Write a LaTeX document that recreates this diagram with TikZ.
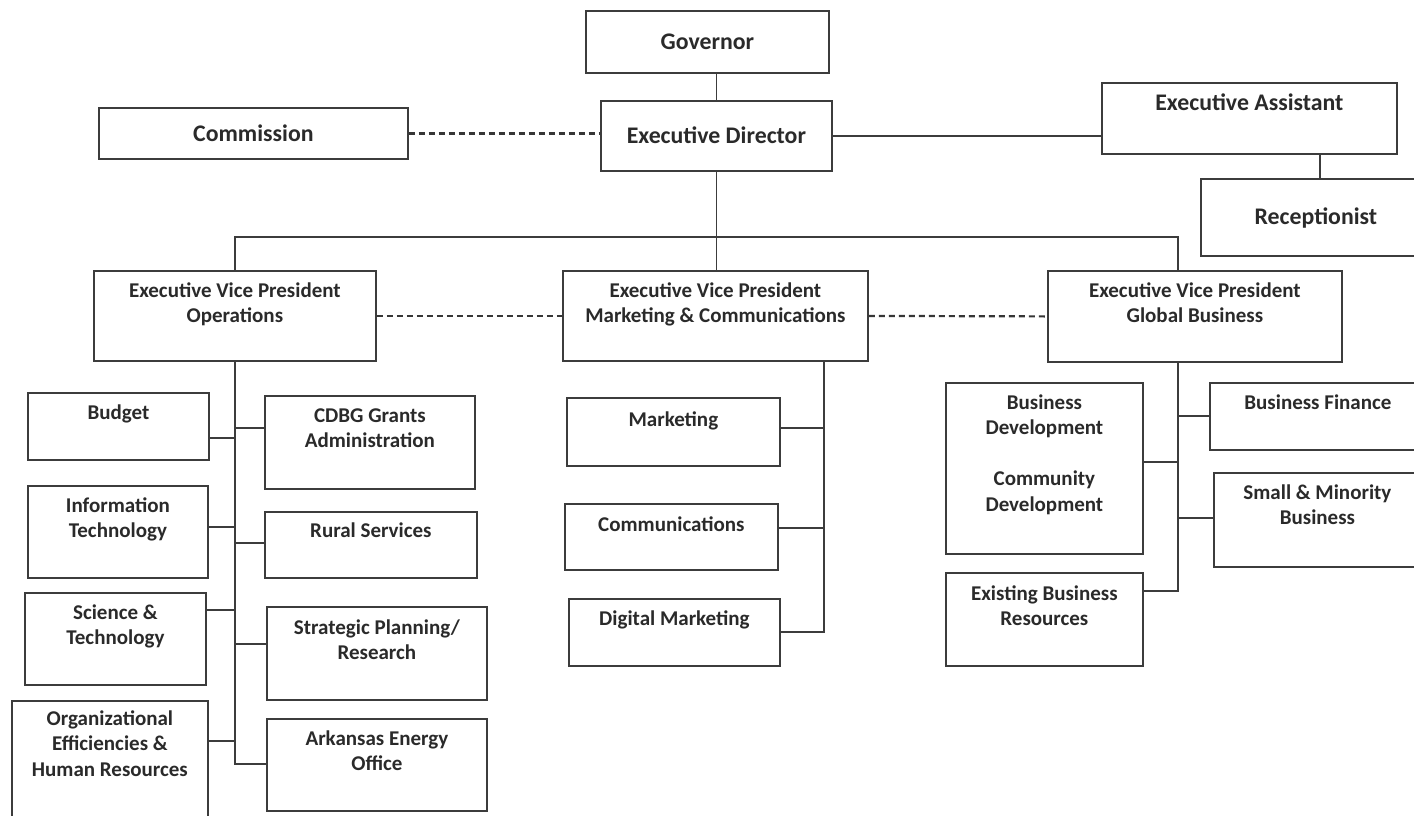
\documentclass[tikz,border=0pt]{standalone}
\usepackage{fontspec}
\setmainfont{Carlito}
\definecolor{lc}{HTML}{3C3C3C}
\definecolor{tc}{HTML}{2A2A2A}
\newcommand\orgbox[8]{%
  \node[box, anchor=north west, minimum width={(#4-#2)*1pt}, minimum height={(#5-#3)*1pt}] (#1) at (#2,#3) {};
  \node[lbl, #7, anchor=north] (#1t) at (#1.north |- 0,#6-11) {\rule{0pt}{18pt}#8};}
\begin{document}
\begin{tikzpicture}[x=1pt,y=-1pt,
  box/.style={draw=lc, line width=1.8pt, rectangle, inner sep=0pt, fill=white},
  lbl/.style={font=\bfseries\fontsize{21}{25.5}\selectfont, text=tc, align=center, inner sep=0pt},
  big/.style={font=\bfseries\fontsize{23.8}{27}\selectfont},
  norm/.style={},
  con/.style={draw=lc, line width=1.8pt},
  dcon/.style={draw=lc!90!black, line width=2.2pt, dash pattern=on 6pt off 4pt}]
\useasboundingbox (0,0) rectangle (1414,815);
\clip (0,0) rectangle (1414,815);
\fill[white] (0,0) rectangle (1414,815);

% top level
\orgbox{gov}{585}{10}{828}{72}{42}{big}{Governor}
\orgbox{ed}{600}{100}{831}{170}{136}{big}{Executive Director}
\orgbox{com}{98}{107}{407}{158}{134}{big}{Commission}
\orgbox{ea}{1101}{82}{1396}{153}{103}{big}{Executive Assistant}
\orgbox{rec}{1200}{178}{1430}{255}{217}{big}{Receptionist}

% vice presidents
\orgbox{evpo}{93}{270}{375}{360}{290}{norm}{Executive Vice President\\Operations}
\orgbox{evpm}{562}{270}{867}{360}{290}{norm}{Executive Vice President\\Marketing \& Communications}
\orgbox{evpg}{1047}{270}{1341}{361}{290}{norm}{Executive Vice President\\Global Business}

% operations
\orgbox{budget}{27}{392}{208}{459}{412}{norm}{Budget}
\orgbox{cdbg}{264}{395}{474}{488}{415}{norm}{CDBG Grants\\Administration}
\orgbox{it}{27}{485}{207}{577}{505}{norm}{Information\\Technology}
\orgbox{rural}{264}{511}{476}{577}{530}{norm}{Rural Services}
\orgbox{sci}{24}{592}{205}{684}{612}{norm}{Science \&\\Technology}
\orgbox{strat}{266}{606}{486}{699}{627}{norm}{Strategic Planning/\\Research}
\orgbox{org}{11}{700}{207}{830}{718}{norm}{Organizational\\Efficiencies \&\\Human Resources}
\orgbox{ark}{266}{718}{486}{810}{738}{norm}{Arkansas Energy\\Office}

% marketing
\orgbox{mkt}{566}{397}{779}{465}{419}{norm}{Marketing}
\orgbox{comm}{564}{503}{777}{569}{524}{norm}{Communications}
\orgbox{dig}{568}{598}{779}{665}{618}{norm}{Digital Marketing}

% global business
\orgbox{bd}{945}{382}{1142}{553}{402}{norm}{Business\\Development\\[25.5pt]Community\\Development}
\orgbox{bf}{1209}{382}{1425}{449}{402}{norm}{Business Finance}
\orgbox{smb}{1213}{472}{1420}{566}{492}{norm}{Small \& Minority\\Business}
\orgbox{ebr}{945}{572}{1142}{665}{593}{norm}{Existing Business\\Resources}

% coordinates
\coordinate (bus) at (715,237);
\coordinate (gtop) at (1178,270);
\coordinate (gbot) at (1178,361);
\coordinate (mtop) at (824,360);
\coordinate (rx) at (1320,0);

% top connectors
\draw[con] (ed.north) -- (ed.north |- gov.south);
\draw[dcon] (com.east) -- (com.east -| ed.west);
\draw[con] (ed.east) -- (ed.east -| ea.west);
\draw[con] (ea.south -| rx) -- (rec.north -| rx);
\draw[con] (ed.south) -- (ed.south |- evpm.north);
\draw[con] (evpo.north) |- (gtop |- bus) -- (gtop);
\draw[dcon] (evpo.east) -- (evpm.west);
\draw[dcon] (evpm.east) -- (evpg.west);

% operations spine
\draw[con] (evpo.south) |- (ark.west |- 0,764);
\draw[con] (budget.east |- 0,438) -- (evpo.south |- 0,438);
\draw[con] (cdbg.west |- 0,428) -- (evpo.south |- 0,428);
\draw[con] (it.east |- 0,527) -- (evpo.south |- 0,527);
\draw[con] (rural.west |- 0,543) -- (evpo.south |- 0,543);
\draw[con] (sci.east |- 0,610) -- (evpo.south |- 0,610);
\draw[con] (strat.west |- 0,644) -- (evpo.south |- 0,644);
\draw[con] (org.east |- 0,741) -- (evpo.south |- 0,741);

% marketing spine
\draw[con] (mtop) |- (dig.east |- 0,632);
\draw[con] (mkt.east |- 0,428) -- (mtop |- 0,428);
\draw[con] (comm.east |- 0,528) -- (mtop |- 0,528);

% global spine
\draw[con] (gbot) |- (ebr.east |- 0,591);
\draw[con] (bf.west |- 0,416) -- (gbot |- 0,416);
\draw[con] (bd.east |- 0,462) -- (gbot |- 0,462);
\draw[con] (smb.west |- 0,518) -- (gbot |- 0,518);
\end{tikzpicture}
\end{document}
